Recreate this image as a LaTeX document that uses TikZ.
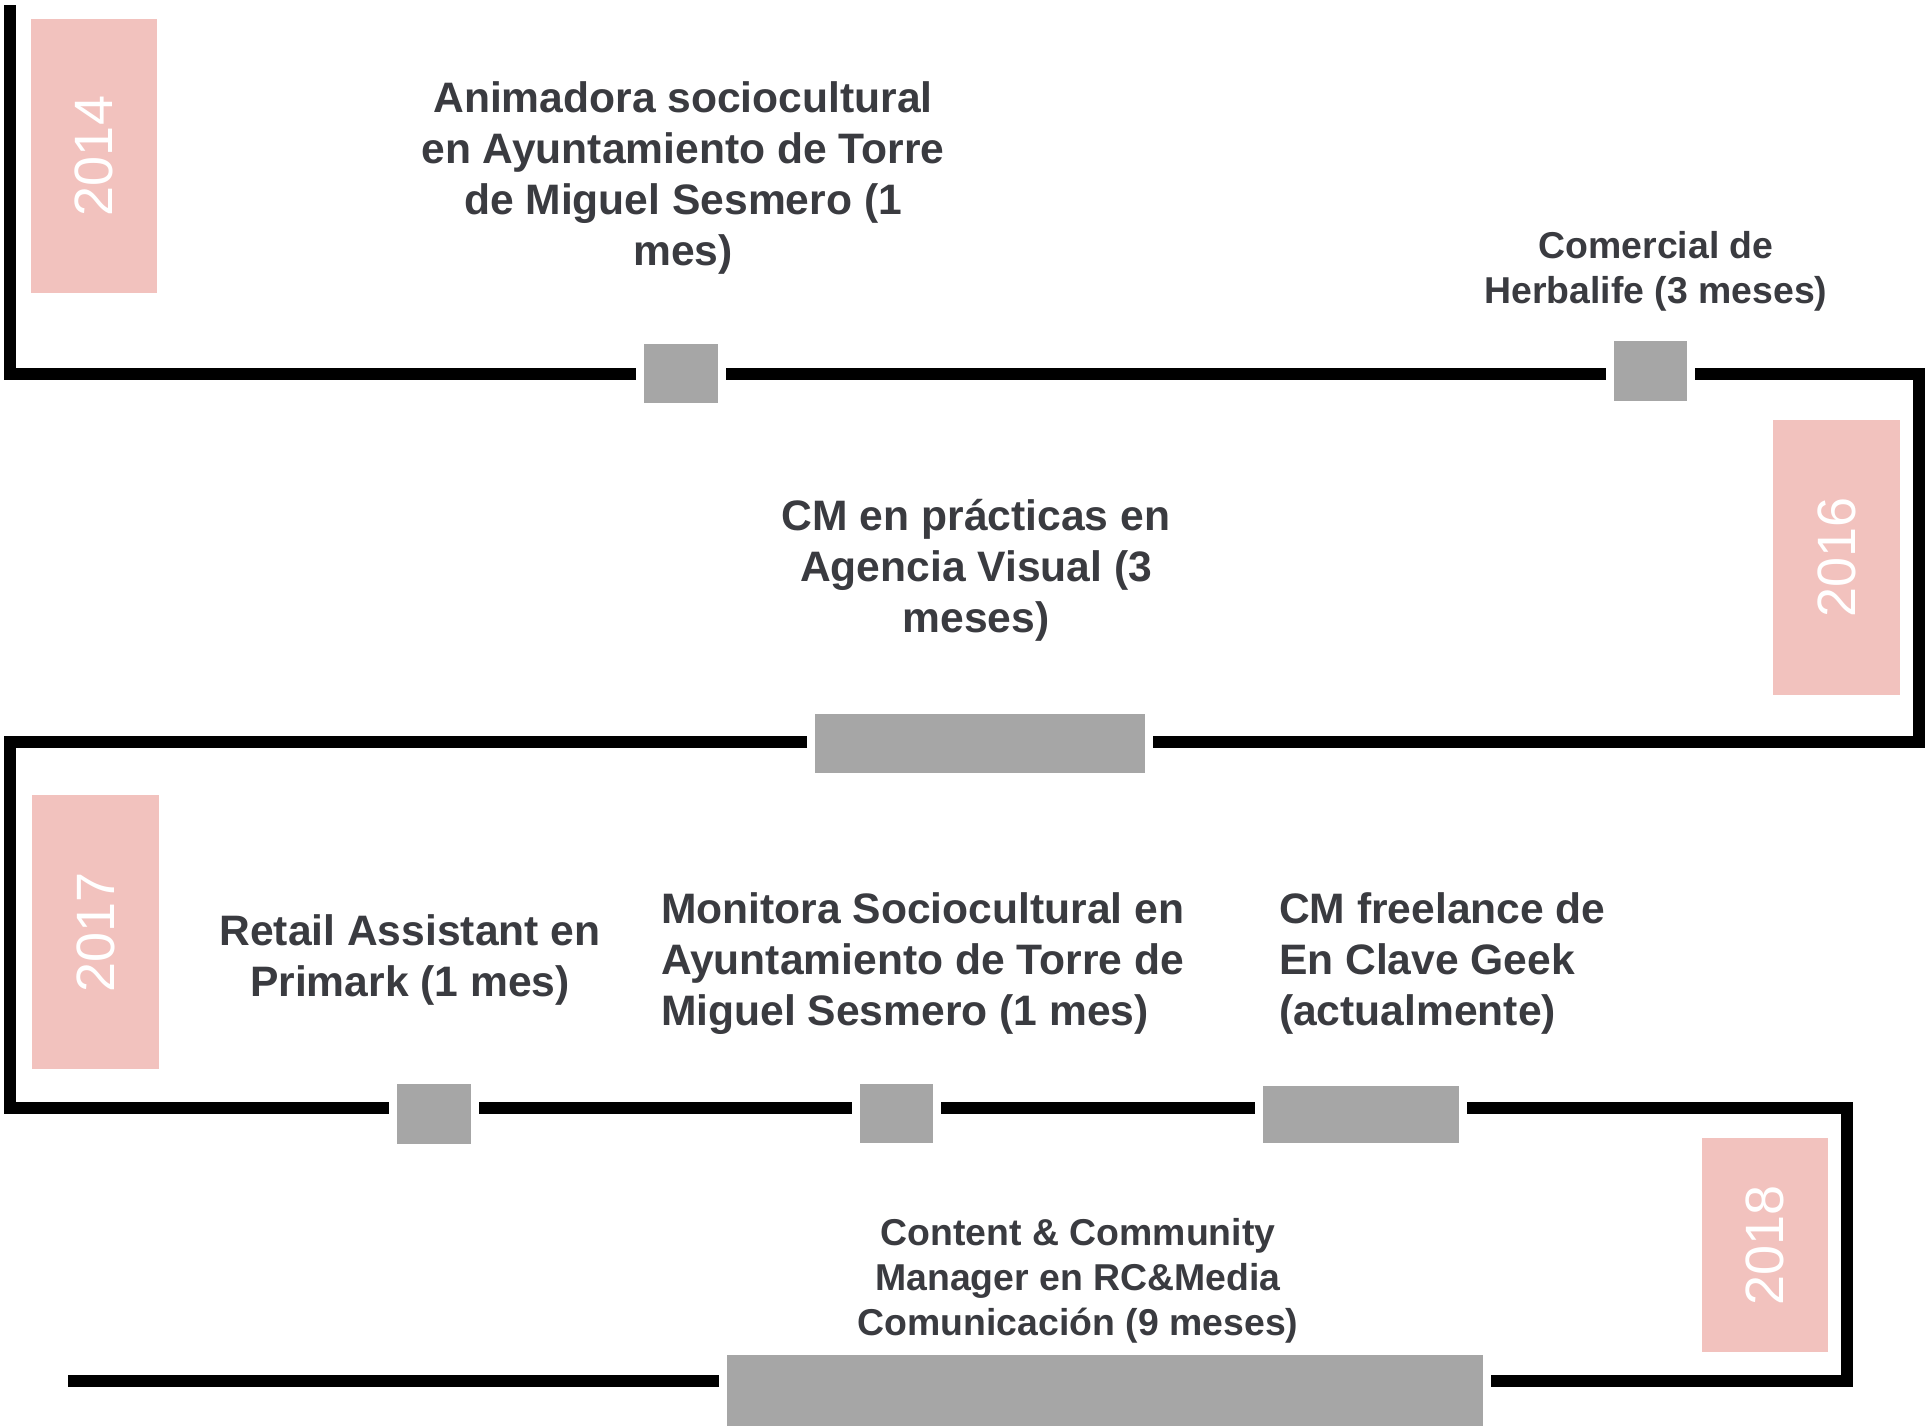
\documentclass[tikz,border=0pt]{standalone}
\usepackage{fontspec}
\setmainfont{Liberation Sans}
\definecolor{pinkbox}{HTML}{F2C2BE}
\definecolor{greybox}{HTML}{A6A6A6}
\definecolor{txtgrey}{HTML}{3A3B40}
\begin{document}
\begin{tikzpicture}[x=1pt,y=-1pt,
  tl/.style={line width=12pt, line cap=butt, line join=miter, draw=black},
  evbox/.style={fill=greybox, draw=none, inner sep=0pt, outer sep=0pt},
  yearbox/.style={fill=pinkbox, draw=none, inner sep=0pt, outer sep=0pt, rotate=90,
    text=white, font=\fontsize{54}{60}\selectfont},
  lbl/.style={inner sep=0pt, outer sep=0pt, text=txtgrey, align=center,
    font=\bfseries\fontsize{42.6}{51}\selectfont},
  lbls/.style={inner sep=0pt, outer sep=0pt, text=txtgrey, align=center,
    font=\bfseries\fontsize{37.4}{45}\selectfont}
]
\clip (0,0) rectangle (1927,1425);
\fill[white] (0,0) rectangle (1927,1425);

% year boxes
\node[yearbox, minimum width=274, minimum height=126] (p14) at (94,156) {2014};
\node[yearbox, minimum width=275, minimum height=127] (p16) at (1836.5,557.5) {2016};
\node[yearbox, minimum width=274, minimum height=127] (p17) at (95.5,932) {2017};
\node[yearbox, minimum width=214, minimum height=126] (p18) at (1765,1245) {2018};

% event boxes
\node[evbox, minimum width=74, minimum height=59] (b1) at (681,373.5) {};
\node[evbox, minimum width=73, minimum height=60] (b2) at (1650.5,371) {};
\node[evbox, minimum width=330, minimum height=59] (b3) at (980,743.5) {};
\node[evbox, minimum width=74, minimum height=60] (b4) at (434,1114) {};
\node[evbox, minimum width=73, minimum height=59] (b5) at (896.5,1113.5) {};
\node[evbox, minimum width=196, minimum height=57] (b6) at (1361,1114.5) {};
\node[evbox, minimum width=756, minimum height=100] (b7) at (1105,1405) {};

% corners of the timeline
\coordinate (s0) at (10,5);
\coordinate (k1) at (10,374);
\coordinate (k2) at (1919,374);
\coordinate (k3) at (1919,742);
\coordinate (k4) at (10,742);
\coordinate (k5) at (10,1108);
\coordinate (k6) at (1847,1108);
\coordinate (k7) at (1847,1381);
\coordinate (e8) at (68,1381);

\draw[tl] (s0) -- (k1) -- ([xshift=-8pt]b1.west |- k1);
\draw[tl] ([xshift=8pt]b1.east |- k1) -- ([xshift=-8pt]b2.west |- k1);
\draw[tl] ([xshift=8pt]b2.east |- k2) -- (k2) -- (k3) -- ([xshift=8pt]b3.east |- k3);
\draw[tl] ([xshift=-8pt]b3.west |- k4) -- (k4) -- (k5) -- ([xshift=-8pt]b4.west |- k5);
\draw[tl] ([xshift=8pt]b4.east |- k5) -- ([xshift=-8pt]b5.west |- k5);
\draw[tl] ([xshift=8pt]b5.east |- k5) -- ([xshift=-8pt]b6.west |- k6);
\draw[tl] ([xshift=8pt]b6.east |- k6) -- (k6) -- (k7) -- ([xshift=8pt]b7.east |- k7);
\draw[tl] ([xshift=-8pt]b7.west |- k7) -- (e8);

% labels
\node[lbl, anchor=north] (t1) at (683,82) {Animadora sociocultural\\en Ayuntamiento de Torre\\de Miguel Sesmero (1\\mes)};
\node[lbls, anchor=north] (t2) at (1656,231) {Comercial de\\Herbalife (3 meses)};
\node[lbl, anchor=north] (t3) at (976,499) {CM en prácticas en\\Agencia Visual (3\\meses)};
\node[lbl, anchor=north] (t4) at (410,915) {Retail Assistant en\\Primark (1 mes)};
\node[lbl, anchor=north west, align=left] (t5) at (661,893) {Monitora Sociocultural en\\Ayuntamiento de Torre de\\Miguel Sesmero (1 mes)};
\node[lbl, anchor=north west, align=left] (t6) at (1279,893) {CM freelance de\\En Clave Geek\\(actualmente)};
\node[lbls, anchor=north] (t7) at (1078,1218) {Content \& Community\\Manager en RC\&Media\\Comunicación (9 meses)};
\end{tikzpicture}
\end{document}
